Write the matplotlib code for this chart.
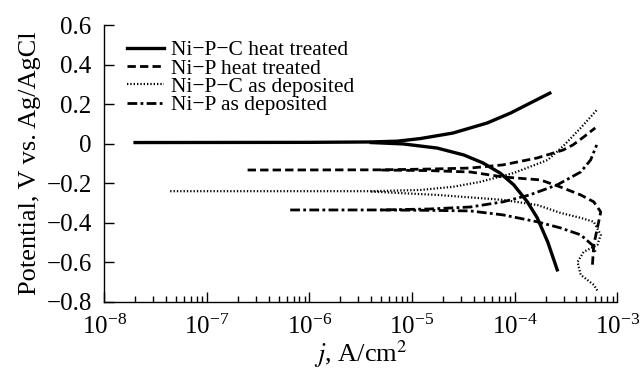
import numpy as np
import matplotlib
matplotlib.use('Agg')
import matplotlib.pyplot as plt

plt.rcParams['font.family'] = ['Liberation Serif', 'DejaVu Serif']
plt.rcParams['mathtext.fontset'] = 'stix'

# Ni-P-C heat treated (solid)
npc_ht_an_j = [2e-8, 1e-6, 4e-6, 7.2e-6, 1.2e-5, 2.5e-5, 5.4e-5, 9.1e-5, 1.42e-4, 2.2e-4]
npc_ht_an_E = [0.006, 0.007, 0.009, 0.013, 0.026, 0.054, 0.105, 0.155, 0.206, 0.256]
npc_ht_ca_j = [4e-6, 8.2e-6, 1.76e-5, 3.2e-5, 4.9e-5, 7.2e-5, 9.8e-5, 1.33e-4, 1.66e-4, 2.1e-4, 2.6e-4]
npc_ht_ca_E = [0.006, -0.001, -0.022, -0.057, -0.097, -0.148, -0.208, -0.294, -0.375, -0.497, -0.638]

# Ni-P heat treated (dashed)
np_ht_an_j = [2.5e-7, 5e-6, 1.5e-5, 3.7e-5, 7.7e-5, 1.66e-4, 2.96e-4, 3.7e-4, 4.7e-4, 6.1e-4]
np_ht_an_E = [-0.133, -0.132, -0.128, -0.123, -0.107, -0.072, -0.032, -0.006, 0.034, 0.08]
np_ht_ca_j = [5e-6, 1.5e-5, 3.7e-5, 7.7e-5, 1.78e-4, 2.8e-4, 4.4e-4, 5.9e-4, 6.9e-4, 6.4e-4, 5.9e-4, 5.7e-4]
np_ht_ca_E = [-0.133, -0.136, -0.143, -0.168, -0.183, -0.219, -0.259, -0.294, -0.345, -0.426, -0.512, -0.628]

# Ni-P-C as deposited (dotted)
npc_ad_an_j = [4.4e-8, 4e-6, 1.2e-5, 2.5e-5, 4.6e-5, 9.8e-5, 2.1e-4, 3e-4, 4.4e-4, 6.3e-4]
npc_ad_an_E = [-0.24, -0.24, -0.234, -0.218, -0.193, -0.148, -0.082, -0.01, 0.08, 0.17]
npc_ad_ca_j = [4e-6, 1.76e-5, 7.7e-5, 1.66e-4, 2.8e-4, 4.4e-4, 5.9e-4, 6.9e-4, 6.4e-4,
               4.7e-4, 4.1e-4, 4.4e-4, 5.9e-4, 6.5e-4]
npc_ad_ca_E = [-0.242, -0.259, -0.284, -0.31, -0.35, -0.375, -0.395, -0.461, -0.512,
               -0.547, -0.598, -0.663, -0.714, -0.749]

# Ni-P as deposited (dash-dot)
np_ad_an_j = [6.5e-7, 5e-6, 1.5e-5, 3.7e-5, 7.7e-5, 1.4e-4, 2.6e-4, 4.4e-4, 5.5e-4, 6.3e-4]
np_ad_an_E = [-0.335, -0.335, -0.33, -0.32, -0.294, -0.259, -0.208, -0.143, -0.082, -0.006]
np_ad_ca_j = [5e-6, 1.5e-5, 3.7e-5, 7.7e-5, 1.66e-4, 2.8e-4, 4.4e-4, 5.7e-4, 6.1e-4]
np_ad_ca_E = [-0.335, -0.337, -0.34, -0.36, -0.395, -0.426, -0.461, -0.512, -0.547]

fig = plt.figure(figsize=(6.43, 3.75), dpi=100)
ax = fig.add_axes([0.162, 0.195, 0.798, 0.738])

ls_dash = (0, (3, 1.5))
ls_dot = (0, (0.6, 0.9))
ls_dashdot = (0, (3.5, 1.2, 1, 1.2))

ax.plot(npc_ht_an_j, npc_ht_an_E, color='k', lw=2.4, ls='-', label='Ni\u2212P\u2212C heat treated')
ax.plot(npc_ht_ca_j, npc_ht_ca_E, color='k', lw=2.4, ls='-')
ax.plot(np_ht_an_j, np_ht_an_E, color='k', lw=2.0, ls=ls_dash, label='Ni\u2212P heat treated')
ax.plot(np_ht_ca_j, np_ht_ca_E, color='k', lw=2.0, ls=ls_dash)
ax.plot(npc_ad_an_j, npc_ad_an_E, color='k', lw=1.6, ls=ls_dot, label='Ni\u2212P\u2212C as deposited')
ax.plot(npc_ad_ca_j, npc_ad_ca_E, color='k', lw=1.6, ls=ls_dot)
ax.plot(np_ad_an_j, np_ad_an_E, color='k', lw=2.0, ls=ls_dashdot, label='Ni\u2212P as deposited')
ax.plot(np_ad_ca_j, np_ad_ca_E, color='k', lw=2.0, ls=ls_dashdot)

ax.set_xscale('log')
ax.set_xlim(1e-8, 1e-3)
ax.set_ylim(-0.8, 0.6)
ax.set_yticks([-0.8, -0.6, -0.4, -0.2, 0, 0.2, 0.4, 0.6])
ax.set_yticklabels(['\u22120.8', '\u22120.6', '\u22120.4', '\u22120.2', '0', '0.2', '0.4', '0.6'])

for s in ['top', 'right']:
    ax.spines[s].set_visible(False)
for s in ['left', 'bottom']:
    ax.spines[s].set_linewidth(1.0)

ax.tick_params(axis='both', which='major', direction='in', length=7, width=1, labelsize=18)
ax.tick_params(axis='x', which='minor', direction='in', length=4, width=1)
ax.tick_params(axis='y', which='major', pad=9)
ax.tick_params(axis='x', which='major', pad=9)

ax.set_xlabel('$j$, A/cm$^2$', fontsize=19, labelpad=0)
ax.set_ylabel('Potential, V vs. Ag/AgCl', fontsize=19, labelpad=4)

ax.legend(loc='upper left', bbox_to_anchor=(0.015, 1.0), frameon=False, fontsize=15.5,
          handlelength=1.7, handletextpad=0.35, labelspacing=-0.08, borderaxespad=0.3)

fig.savefig('out.png', dpi=100)
